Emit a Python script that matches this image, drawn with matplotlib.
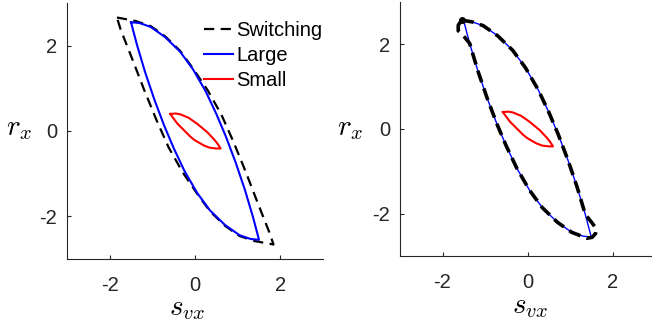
import matplotlib
matplotlib.use("Agg")
import matplotlib.pyplot as plt

plt.rcParams['font.family'] = ['Liberation Sans', 'DejaVu Sans']
plt.rcParams['mathtext.fontset'] = 'cm'

# ---- data ----
# Large loop (upper edge TL->BR, then lower edge BR->TL)
large_s = [-1.50, -1.30, -1.04, -0.70, -0.35, -0.05, 0.25, 0.50, 0.72, 0.95, 1.17, 1.36, 1.50,
           1.30, 1.04, 0.70, 0.35, 0.05, -0.25, -0.50, -0.72, -0.95, -1.17, -1.36, -1.50]
large_r = [2.55, 2.53, 2.44, 2.20, 1.86, 1.45, 0.93, 0.40, -0.12, -0.73, -1.38, -2.02, -2.55,
           -2.53, -2.44, -2.20, -1.86, -1.45, -0.93, -0.40, 0.12, 0.73, 1.38, 2.02, 2.55]

# Small loop
small_s = [-0.58, -0.45, -0.34, -0.15, 0.05, 0.29, 0.45, 0.53, 0.60,
           0.49, 0.34, 0.21, 0.00, -0.10, -0.29, -0.41, -0.50, -0.58]
small_r = [0.40, 0.41, 0.39, 0.31, 0.17, -0.03, -0.20, -0.30, -0.41,
           -0.41, -0.39, -0.34, -0.22, -0.14, 0.05, 0.17, 0.29, 0.40]

# Switching loop, left panel
sw1_s = [-1.83, -1.40, -1.04, -0.70, -0.35, -0.05, 0.30, 0.62, 0.90, 1.19, 1.46, 1.74, 1.84,
         1.40, 1.04, 0.70, 0.35, 0.05, -0.30, -0.62, -0.90, -1.19, -1.46, -1.74, -1.83]
sw1_r = [2.66, 2.58, 2.46, 2.22, 1.88, 1.47, 0.95, 0.38, -0.25, -0.96, -1.66, -2.37, -2.66,
         -2.58, -2.46, -2.22, -1.88, -1.47, -0.95, -0.38, 0.25, 0.96, 1.66, 2.37, 2.66]

# Switching loop, right panel
sw2_s = [-1.55, -1.30, -1.04, -0.70, -0.35, -0.05, 0.25, 0.50, 0.72, 0.95, 1.17, 1.36, 1.52, 1.62, 1.60, 1.52, 1.40,
         1.04, 0.70, 0.35, 0.05, -0.25, -0.50, -0.72, -0.95, -1.17, -1.36, -1.52, -1.63, -1.63, -1.55]
sw2_r = [2.57, 2.53, 2.44, 2.20, 1.86, 1.45, 0.93, 0.40, -0.12, -0.73, -1.38, -2.02, -2.22, -2.36, -2.47, -2.56, -2.58,
         -2.44, -2.20, -1.86, -1.45, -0.93, -0.40, 0.12, 0.73, 1.38, 2.02, 2.22, 2.32, 2.45, 2.57]

ticks = [-2, 0, 2]
tick_labels = ['-2', '0', '2']
labels = ['Switching', 'Large', 'Small']

fig = plt.figure(figsize=(6.52, 3.28), dpi=100)
ax1 = fig.add_axes([67/652, 1-259/328, 256/652, 256/328])
ax2 = fig.add_axes([400/652, 1-256/328, 255/652, 254/328])

gray = (0.15, 0.15, 0.15)

# left panel
ax1.plot(sw1_s, sw1_r, color='k', lw=1.6, dashes=(4.6, 2.9), label=labels[0], zorder=2)
ax1.plot(large_s, large_r, color=(0, 0, 1), lw=1.5, label=labels[1], zorder=3)
ax1.plot(small_s, small_r, color=(1, 0, 0), lw=1.5, label=labels[2], zorder=3)

# right panel
ax2.plot(large_s, large_r, color=(0, 0, 1), lw=1.0, zorder=2)
ax2.plot(sw2_s, sw2_r, color='k', lw=2.6, dashes=(3.4, 1.8), zorder=3)
ax2.plot(sw2_s[:1], sw2_r[:1], 'o', color='k', ms=4, zorder=4)
ax2.plot(small_s, small_r, color=(1, 0, 0), lw=1.5, zorder=3)

for ax, lx, ly, rx, ry in [(ax1, 0.47, -0.22, -0.186, 0.485), (ax2, 0.51, -0.225, -0.196, 0.475)]:
    ax.set_xlim(-3, 3)
    ax.set_ylim(-3, 3)
    ax.set_xticks(ticks)
    ax.set_xticklabels(tick_labels)
    ax.set_yticks(ticks)
    ax.set_yticklabels(tick_labels)
    for sp in ['top', 'right']:
        ax.spines[sp].set_visible(False)
    for sp in ['left', 'bottom']:
        ax.spines[sp].set_color(gray)
        ax.spines[sp].set_linewidth(0.8)
    ax.tick_params(direction='in', length=3, width=0.8, color=gray, labelcolor=gray, labelsize=14.5)
    ax.tick_params(axis='x', pad=12)
    ax.tick_params(axis='y', pad=7)
    ax.text(lx, ly, r'$s_{vx}$', transform=ax.transAxes, ha='center', va='baseline', fontsize=21)
    ax.text(rx, ry, r'$r_x$', transform=ax.transAxes, ha='center', va='baseline', fontsize=21)

leg = ax1.legend(loc='upper left', bbox_to_anchor=(0.535, 0.93), frameon=False, fontsize=14.5,
                 handlelength=1.45, handletextpad=0.15, borderpad=0.0, borderaxespad=0.0,
                 labelspacing=0.3)

fig.savefig('out.png', dpi=100)
